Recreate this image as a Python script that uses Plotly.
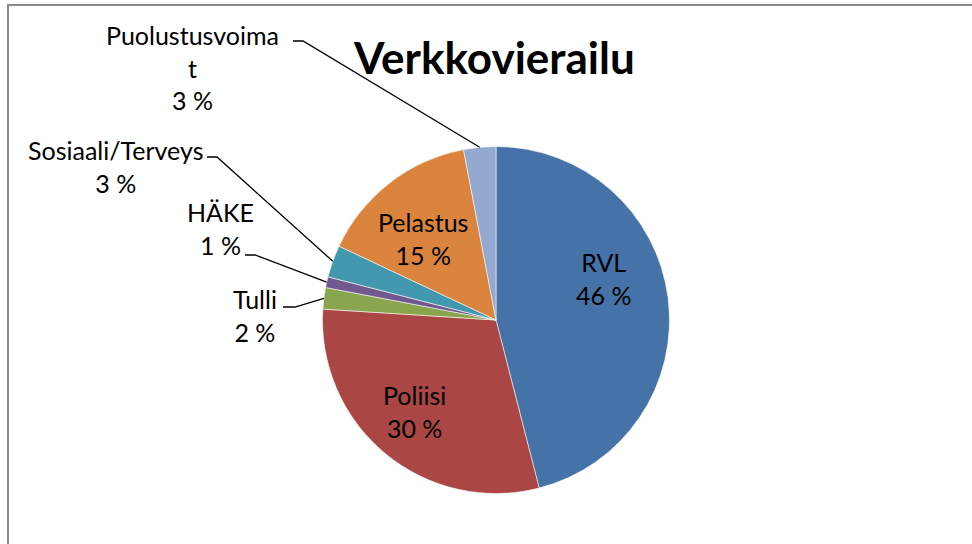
import math
import plotly.graph_objects as go

# Network roaming shares by organisation (percent)
labels = ["RVL", "Poliisi", "Tulli", "HÄKE", "Sosiaali/Terveys", "Pelastus", "Puolustusvoimat"]
values = [46, 30, 2, 1, 3, 15, 3]
colors = ["#4572A7", "#AA4643", "#89A54E", "#71588F", "#4198AF", "#DB843D", "#93A9CF"]
title_text = "Verkkovierailu"

W, H = 972, 544
CX, CY, R = 496, 320, 173.5          # pie centre and radius (pixels)
FONT = "Lato"
LABEL_SIZE = 25


def to_paper(x, y):
    return x / W, 1 - y / H


fig = go.Figure(
    go.Pie(
        labels=labels,
        values=values,
        sort=False,
        direction="clockwise",
        rotation=0,
        marker=dict(colors=colors, line=dict(color="rgba(255,255,255,0.7)", width=0.8)),
        textinfo="none",
        domain=dict(x=[(CX - R) / W, (CX + R) / W], y=[1 - (CY + R) / H, 1 - (CY - R) / H]),
        hoverinfo="skip",
        showlegend=False,
    )
)

# Label placement: block centre (pixels); outside labels also get an elbow leader
placement = {
    "RVL": dict(cx=603, cy=278),
    "Poliisi": dict(cx=414, cy=411),
    "Pelastus": dict(cx=423, cy=238),
    "Puolustusvoimat": dict(cx=192, cy=67, sx0=293, sx1=303, sy=41),
    "Sosiaali/Terveys": dict(cx=115, cy=166, sx0=207, sx1=217, sy=157),
    "HÄKE": dict(cx=220, cy=229, sx0=245, sx1=255, sy=255),
    "Tulli": dict(cx=255, cy=315, sx0=283, sx1=295, sy=307),
}
# Long names wrap inside the label box
display_name = {"Puolustusvoimat": "Puolustusvoima<br>t"}

total = sum(values)
cum = 0.0
annotations = []
shapes = []
for lab, val in zip(labels, values):
    mid = (cum + val / 2) / total * 2 * math.pi
    cum += val
    o = placement[lab]
    x, y = to_paper(o["cx"], o["cy"])
    annotations.append(dict(
        x=x, y=y, xref="paper", yref="paper", xanchor="center", yanchor="middle",
        text=f"{display_name.get(lab, lab)}<br>{val} %", showarrow=False, align="center",
        font=dict(family=FONT, size=LABEL_SIZE, color="black"),
    ))
    if "sx0" in o:
        ex, ey = CX + R * math.sin(mid), CY - R * math.cos(mid)
        pts = [to_paper(o["sx0"], o["sy"]), to_paper(o["sx1"], o["sy"]), to_paper(ex, ey)]
        path = "M " + " L ".join(f"{px:.5f},{py:.5f}" for px, py in pts)
        shapes.append(dict(type="path", xref="paper", yref="paper", path=path,
                           line=dict(color="black", width=1.3)))

# Chart title
tx, ty = to_paper(494, 57)
annotations.append(dict(
    x=tx, y=ty, xref="paper", yref="paper", xanchor="center", yanchor="middle",
    text=f"<b>{title_text}</b>", showarrow=False,
    font=dict(family=FONT, size=44, color="black"),
))

# Chart area frame
bx0, by0 = to_paper(8, 5)
shapes.append(dict(type="rect", xref="paper", yref="paper", x0=bx0, y0=-0.1, x1=1.1, y1=by0,
                   line=dict(color="#8a8a8a", width=2), fillcolor="rgba(0,0,0,0)"))

fig.update_layout(
    width=W, height=H,
    margin=dict(l=0, r=0, t=0, b=0),
    paper_bgcolor="white",
    plot_bgcolor="white",
    annotations=annotations,
    shapes=shapes,
    showlegend=False,
)

fig.write_html("out.html")
